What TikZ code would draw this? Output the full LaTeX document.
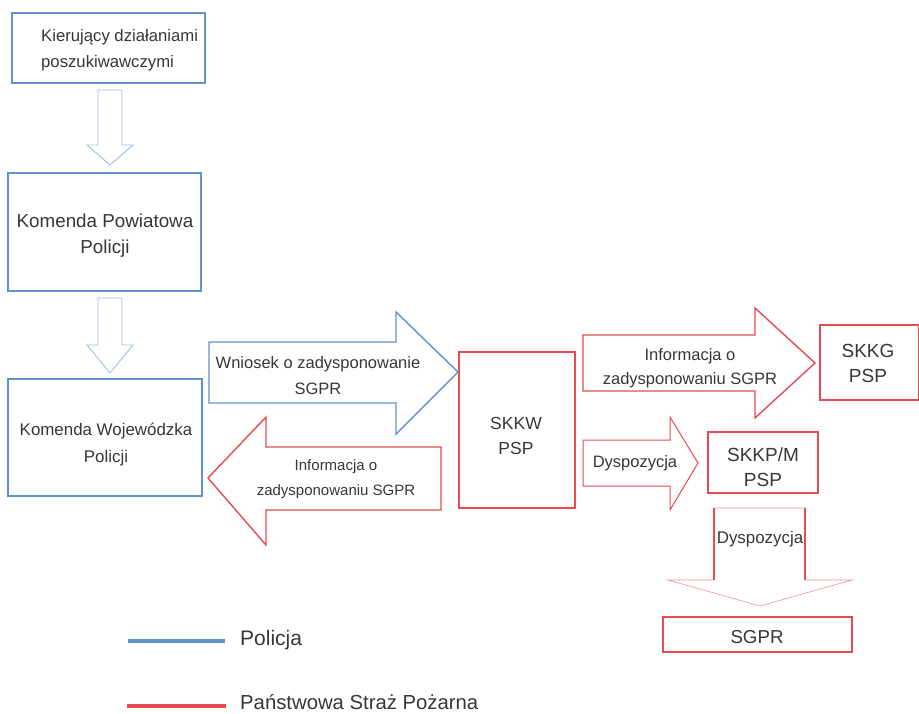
\documentclass[tikz,border=0pt]{standalone}
\usepackage{fontspec}
\setmainfont{Liberation Sans}
\definecolor{polblue}{RGB}{96,146,206}
\definecolor{pollight}{RGB}{160,190,225}
\definecolor{pspred}{RGB}{228,76,80}
\definecolor{txtgray}{RGB}{55,55,55}
\tikzset{
  polbox/.style = {draw = polblue, line width = 1.4pt, fill = white},
  pspbox/.style = {draw = pspred, line width = 1.4pt, fill = white},
  label/.style = {text = txtgray, align = center, inner sep = 0pt}
}
\begin{document}
\begin{tikzpicture}[x = 1pt, y = -1pt]
\useasboundingbox (0,0) rectangle (919,713);
% boxes
\draw [polbox] (12,13) rectangle (205,83);
\node[label, anchor = west, align = left, font = \fontsize{16.7}{26}\selectfont] (kdp) at (41,50) {Kierujący działaniami\\poszukiwawczymi};
\draw [polbox] (8,173) rectangle (201,291);
\node[label, font = \fontsize{18.8}{26}\selectfont] (kpp) at (105,236) {Komenda Powiatowa\\Policji};
\draw [polbox] (8,379) rectangle (202,496);
\node[label, font = \fontsize{16.9}{27}\selectfont] (kwp) at (106,445) {Komenda Wojewódzka\\Policji};
\draw [pspbox] (459,352) rectangle (575,508);
\node[label, font = \fontsize{17.5}{25}\selectfont] (skkw) at (516,436) {SKKW\\PSP};
\draw [pspbox] (820,325) rectangle (919,400);
\node[label, font = \fontsize{19}{25}\selectfont] (skkg) at (868,363) {SKKG\\PSP};
\draw [pspbox] (708,432) rectangle (818,493);
\node[label, font = \fontsize{19}{25}\selectfont] (skkp) at (763,467) {SKKP/M\\PSP};
\draw [pspbox] (663,617) rectangle (852,652);
\node[label, font = \fontsize{18.7}{22}\selectfont] (sgpr) at (757,637) {SGPR};
% arrows
\foreach \ytop/\ybot/\ytip in {90/145/165, 298/345/373}
  \draw [draw = pollight, line width = 0.9pt, fill = white] (98,\ytop) -- (122,\ytop) -- (122,\ybot) -- (133,\ybot) -- (110,\ytip) -- (87,\ybot) -- (98,\ybot) -- cycle;
\draw [draw = polblue, line width = 1.4pt, fill = white] (209,342) -- (396,342) -- (396,312) -- (458,372) -- (396,434) -- (396,403) -- (209,403) -- cycle;
\node[label, font = \fontsize{16.5}{26}\selectfont] (wniosek) at (318,376) {Wniosek o zadysponowanie\\SGPR};
\draw [draw = pspred, line width = 1.4pt, fill = white] (441,447) -- (266,447) -- (266,417) -- (208,478) -- (266,545) -- (266,510) -- (441,510) -- cycle;
\node[label, font = \fontsize{15}{25}\selectfont] (info1) at (336,479) {Informacja o\\zadysponowaniu SGPR};
\draw [draw = pspred, line width = 1.4pt, fill = white] (583,335) -- (755,335) -- (755,308) -- (815,363) -- (755,418) -- (755,391) -- (583,391) -- cycle;
\node[label, font = \fontsize{16.5}{24}\selectfont] (info2) at (690,368) {Informacja o\\zadysponowaniu SGPR};
\draw [draw = pspred, line width = 1pt, fill = white] (583,440) -- (670,440) -- (670,417) -- (698,463) -- (670,510) -- (670,486) -- (583,486) -- cycle;
\node[label, font = \fontsize{16.5}{20}\selectfont] (dysp1) at (635,463) {Dyspozycja};
\draw [draw = pspred!60, line width = 0.6pt, fill = white] (714,508) -- (805,508) -- (805,580) -- (852,580) -- (760,606) -- (668,580) -- (714,580) -- cycle;
\draw [draw = pspred, line width = 1.6pt] (714,508) -- (714,580);
\draw [draw = pspred, line width = 1.6pt] (805,508) -- (805,580);
\node[label, font = \fontsize{16.9}{20}\selectfont] (dysp2) at (760,539) {Dyspozycja};
% legend
\coordinate (pola) at (128,641);
\coordinate (polb) at (225,641);
\draw [draw = polblue, line width = 3.5pt] (pola) -- (polb);
\node[label, anchor = west, font = \fontsize{21}{24}\selectfont] (leg1) at (240,640) {Policja};
\coordinate (pspa) at (127,706);
\coordinate (pspb) at (226,706);
\draw [draw = pspred, line width = 3.5pt] (pspa) -- (pspb);
\node[label, anchor = west, font = \fontsize{20.3}{24}\selectfont] (leg2) at (240,702) {Państwowa Straż Pożarna};
\end{tikzpicture}
\end{document}
